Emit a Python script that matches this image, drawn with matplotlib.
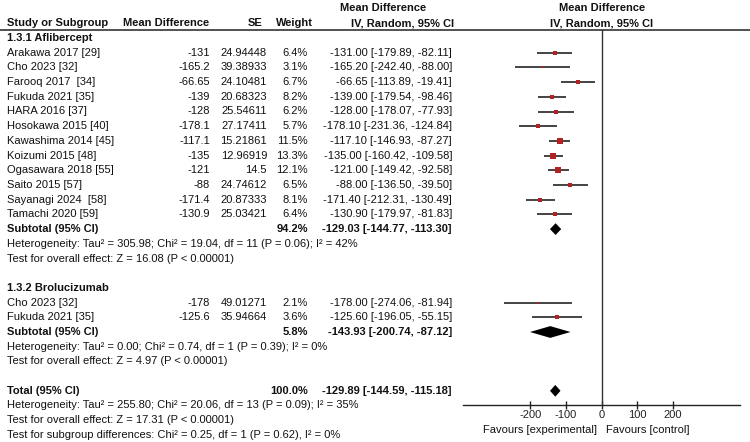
import matplotlib
matplotlib.use("Agg")
import matplotlib.pyplot as plt

# study data, subgroup 1.3.1 Aflibercept
afl_names = ["Arakawa 2017 [29]", "Cho 2023 [32]", "Farooq 2017  [34]", "Fukuda 2021 [35]",
             "HARA 2016 [37]", "Hosokawa 2015 [40]", "Kawashima 2014 [45]", "Koizumi 2015 [48]",
             "Ogasawara 2018 [55]", "Saito 2015 [57]", "Sayanagi 2024  [58]", "Tamachi 2020 [59]"]
afl_md = [-131, -165.2, -66.65, -139, -128, -178.1, -117.1, -135, -121, -88, -171.4, -130.9]
afl_se = [24.94448, 39.38933, 24.10481, 20.68323, 25.54611, 27.17411, 15.21861, 12.96919,
          14.5, 24.74612, 20.87333, 25.03421]
afl_w = [6.4, 3.1, 6.7, 8.2, 6.2, 5.7, 11.5, 13.3, 12.1, 6.5, 8.1, 6.4]
afl_lo = [-179.89, -242.40, -113.89, -179.54, -178.07, -231.36, -146.93, -160.42,
          -149.42, -136.50, -212.31, -179.97]
afl_hi = [-82.11, -88.00, -19.41, -98.46, -77.93, -124.84, -87.27, -109.58,
          -92.58, -39.50, -130.49, -81.83]

# subgroup 1.3.2 Brolucizumab
bro_names = ["Cho 2023 [32]", "Fukuda 2021 [35]"]
bro_md = [-178, -125.6]
bro_se = [49.01271, 35.94664]
bro_w = [2.1, 3.6]
bro_lo = [-274.06, -196.05]
bro_hi = [-81.94, -55.15]

# pooled estimates: weight, estimate, low, high
sub_afl = [94.2, -129.03, -144.77, -113.30]
sub_bro = [5.8, -143.93, -200.74, -87.12]
total = [100.0, -129.89, -144.59, -115.18]

het_afl = "Heterogeneity: Tau² = 305.98; Chi² = 19.04, df = 11 (P = 0.06); I² = 42%"
eff_afl = "Test for overall effect: Z = 16.08 (P < 0.00001)"
het_bro = "Heterogeneity: Tau² = 0.00; Chi² = 0.74, df = 1 (P = 0.39); I² = 0%"
eff_bro = "Test for overall effect: Z = 4.97 (P < 0.00001)"
het_tot = "Heterogeneity: Tau² = 255.80; Chi² = 20.06, df = 13 (P = 0.09); I² = 35%"
eff_tot = "Test for overall effect: Z = 17.31 (P < 0.00001)"
sub_diff = "Test for subgroup differences: Chi² = 0.25, df = 1 (P = 0.62), I² = 0%"

xticks = [-200, -100, 0, 100, 200]

plt.rcParams["font.family"] = ["Liberation Sans", "DejaVu Sans"]
plt.rcParams["font.size"] = 8

TXT = "#111111"
RED = "#b22222"

W, H = 750, 442
ROW0, DY = 38.0, 14.7   # pixel y of row 1, row spacing


def row_lim(p):
    return (p - ROW0) / DY + 1


def num(v):
    return ("%f" % v).rstrip("0").rstrip(".")


def ci(m, l, h):
    return f"{m:.2f} [{l:.2f}, {h:.2f}]"


fig = plt.figure(figsize=(W / 100, H / 100), dpi=100)
ax = fig.add_axes([0, 0, 1, 1])
ax.set_xlim(0, W)
ax.set_ylim(row_lim(H), row_lim(0))
ax.axis("off")

# forest panel
x_left, x_right, y_top, y_bot = 463.3, 740, 30, 405
fx = fig.add_axes([x_left / W, (H - y_bot) / H, (x_right - x_left) / W, (y_bot - y_top) / H])
fx.set_xlim(-387.5, 387.5)
fx.set_ylim(row_lim(y_bot), row_lim(y_top))
fx.patch.set_visible(False)
for s in ["top", "left", "right"]:
    fx.spines[s].set_visible(False)
fx.spines["bottom"].set_linewidth(1.0)
fx.spines["bottom"].set_color("#222222")
fx.set_yticks([])
fx.set_xticks(xticks)
fx.set_xticklabels([str(t) for t in xticks])
fx.tick_params(axis="x", direction="inout", length=6, width=1.0, pad=0.5,
               labelsize=8, colors="#222222")
fx.axvline(0, color="#333333", lw=1.0)

COL_MD, COL_SE, COL_W, COL_CI = 210, 267, 308, 452
X_NAME = 7


def study_row(r, name, md, se, w, lo, hi):
    ax.text(X_NAME, r, name, ha="left", va="center", color=TXT)
    ax.text(COL_MD, r, num(md), ha="right", va="center", color=TXT)
    ax.text(COL_SE, r, num(se), ha="right", va="center", color=TXT)
    ax.text(COL_W, r, f"{w:.1f}%", ha="right", va="center", color=TXT)
    ax.text(COL_CI, r, ci(md, lo, hi), ha="right", va="center", color=TXT)
    fx.plot([lo, hi], [r, r], color="#111111", lw=1.1, solid_capstyle="butt")
    fx.plot(md, r, marker="s", ms=1.15 * w ** 0.5, color=RED, mec=RED, mew=0)


def pooled_row(r, label, vals):
    w, m, lo, hi = vals
    ax.text(X_NAME, r, label, ha="left", va="center", color=TXT, fontweight="bold")
    ax.text(COL_W, r, f"{w:.1f}%", ha="right", va="center", color=TXT, fontweight="bold")
    ax.text(COL_CI, r, ci(m, lo, hi), ha="right", va="center", color=TXT, fontweight="bold")
    h = 0.4
    fx.fill([lo, m, hi, m], [r, r - h, r, r + h], color="black", lw=0)


# headers
ax.text(383, -1.05, "Mean Difference", ha="center", va="center", fontweight="bold", color=TXT)
ax.text(403, 0, "IV, Random, 95% CI", ha="center", va="center", fontweight="bold", color=TXT)
ax.text(601.7, -1.05, "Mean Difference", ha="center", va="center", fontweight="bold", color=TXT)
ax.text(601.7, 0, "IV, Random, 95% CI", ha="center", va="center", fontweight="bold", color=TXT)
ax.text(X_NAME, 0, "Study or Subgroup", ha="left", va="center", fontweight="bold", color=TXT)
ax.text(209, 0, "Mean Difference", ha="right", va="center", fontweight="bold", color=TXT)
ax.text(262, 0, "SE", ha="right", va="center", fontweight="bold", color=TXT)
ax.text(313, 0, "Weight", ha="right", va="center", fontweight="bold", color=TXT)
ax.axhline(row_lim(30), color="#333333", lw=1.2)

# subgroup 1
r = 1
ax.text(X_NAME, r, "1.3.1 Aflibercept", ha="left", va="center", fontweight="bold", color=TXT)
for i in range(len(afl_names)):
    r += 1
    study_row(r, afl_names[i], afl_md[i], afl_se[i], afl_w[i], afl_lo[i], afl_hi[i])
r += 1
pooled_row(r, "Subtotal (95% CI)", sub_afl)
ax.text(X_NAME, r + 1, het_afl, ha="left", va="center", color=TXT)
ax.text(X_NAME, r + 2, eff_afl, ha="left", va="center", color=TXT)

# subgroup 2
r += 4
ax.text(X_NAME, r, "1.3.2 Brolucizumab", ha="left", va="center", fontweight="bold", color=TXT)
for i in range(len(bro_names)):
    r += 1
    study_row(r, bro_names[i], bro_md[i], bro_se[i], bro_w[i], bro_lo[i], bro_hi[i])
r += 1
pooled_row(r, "Subtotal (95% CI)", sub_bro)
ax.text(X_NAME, r + 1, het_bro, ha="left", va="center", color=TXT)
ax.text(X_NAME, r + 2, eff_bro, ha="left", va="center", color=TXT)

# overall
r += 4
pooled_row(r, "Total (95% CI)", total)
ax.text(X_NAME, r + 1, het_tot, ha="left", va="center", color=TXT)
ax.text(X_NAME, r + 2, eff_tot, ha="left", va="center", color=TXT)
ax.text(X_NAME, r + 3, sub_diff, ha="left", va="center", color=TXT)

ax.text(597, row_lim(430), "Favours [experimental]", ha="right", va="center", color=TXT)
ax.text(606, row_lim(430), "Favours [control]", ha="left", va="center", color=TXT)

fig.savefig("out.png", dpi=100)
